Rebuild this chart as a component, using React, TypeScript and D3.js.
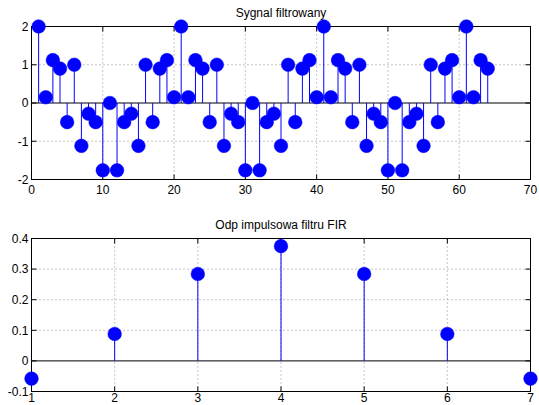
import React from "react";
import * as d3 from "d3";

// Filtered signal samples, n = 1..64
const signalN: number[] = Array.from({ length: 64 }, (_, i) => i + 1);
const signalValues: number[] = [
  2, 0.15, 1.12, 0.9, -0.5, 1, -1.12, -0.28, -0.5, -1.76,
  0, -1.76, -0.5, -0.28, -1.12, 1, -0.5, 0.9, 1.12, 0.15,
  2, 0.15, 1.12, 0.9, -0.5, 1, -1.12, -0.28, -0.5, -1.76,
  0, -1.76, -0.5, -0.28, -1.12, 1, -0.5, 0.9, 1.12, 0.15,
  2, 0.15, 1.12, 0.9, -0.5, 1, -1.12, -0.28, -0.5, -1.76,
  0, -1.76, -0.5, -0.28, -1.12, 1, -0.5, 0.9, 1.12, 0.15,
  2, 0.15, 1.12, 0.9,
];
const signalXTicks: number[] = [0, 10, 20, 30, 40, 50, 60, 70];
const signalYTicks: number[] = [-2, -1, 0, 1, 2];

// FIR impulse response taps, k = 1..7
const firN: number[] = [1, 2, 3, 4, 5, 6, 7];
const firValues: number[] = [-0.058, 0.088, 0.284, 0.375, 0.284, 0.088, -0.058];
const firXTicks: number[] = [1, 2, 3, 4, 5, 6, 7];
const firYTicks: number[] = [-0.1, 0, 0.1, 0.2, 0.3, 0.4];

const FONT = "'Liberation Sans', Arial, Helvetica, sans-serif";
const BLUE = "#0000ff";

type StemProps = {
  title: string;
  xs: number[];
  ys: number[];
  xDomain: [number, number];
  yDomain: [number, number];
  xTicks: number[];
  yTicks: number[];
  box: { left: number; right: number; top: number; bottom: number };
  xLabelOffset: number;
  fmtY: (v: number) => string;
};

function StemPanel({ title, xs, ys, xDomain, yDomain, xTicks, yTicks, box, xLabelOffset, fmtY }: StemProps) {
  const x = d3.scaleLinear().domain(xDomain).range([box.left, box.right]);
  const y = d3.scaleLinear().domain(yDomain).range([box.bottom, box.top]);
  const tickLen = 5;
  const eps = 1e-9;
  const innerX = xTicks.filter((t) => t > xDomain[0] + eps && t < xDomain[1] - eps);
  const innerY = yTicks.filter((t) => t > yDomain[0] + eps && t < yDomain[1] - eps && Math.abs(t) > eps);
  return (
    <g>
      {/* grid */}
      {innerX.map((t) => (
        <line key={"gx" + t} x1={x(t)} x2={x(t)} y1={box.top} y2={box.bottom}
          stroke="#8c8c8c" strokeWidth={1} strokeDasharray="1,3" />
      ))}
      {innerY.map((t) => (
        <line key={"gy" + t} x1={box.left} x2={box.right} y1={y(t)} y2={y(t)}
          stroke="#8c8c8c" strokeWidth={1} strokeDasharray="1,3" />
      ))}
      {/* ticks on all sides, pointing inward */}
      {xTicks.map((t) => (
        <g key={"tx" + t}>
          <line x1={x(t)} x2={x(t)} y1={box.bottom} y2={box.bottom - tickLen} stroke="#000" />
          <line x1={x(t)} x2={x(t)} y1={box.top} y2={box.top + tickLen} stroke="#000" />
          <text x={x(t)} y={box.bottom + xLabelOffset} textAnchor="middle" fontSize={12} fontFamily={FONT} fill="#000">
            {String(t)}
          </text>
        </g>
      ))}
      {yTicks.map((t) => (
        <g key={"ty" + t}>
          <line x1={box.left} x2={box.left + tickLen} y1={y(t)} y2={y(t)} stroke="#000" />
          <line x1={box.right} x2={box.right - tickLen} y1={y(t)} y2={y(t)} stroke="#000" />
          <text x={box.left - 3} y={y(t) + 4.3} textAnchor="end" fontSize={12} fontFamily={FONT} fill="#000">
            {fmtY(t)}
          </text>
        </g>
      ))}
      {/* baseline */}
      <line x1={box.left} x2={box.right} y1={y(0)} y2={y(0)} stroke="#000" strokeWidth={1} />
      {/* stems */}
      {xs.map((xv, i) => (
        <line key={"s" + i} x1={x(xv)} x2={x(xv)} y1={y(0)} y2={y(ys[i])} stroke={BLUE} strokeWidth={1} />
      ))}
      {/* box */}
      <rect x={box.left} y={box.top} width={box.right - box.left} height={box.bottom - box.top}
        fill="none" stroke="#000" strokeWidth={1} />
      {/* markers */}
      {xs.map((xv, i) => (
        <circle key={"m" + i} cx={x(xv)} cy={y(ys[i])} r={6.8} fill={BLUE} stroke={BLUE} strokeWidth={0.5} />
      ))}
      <text x={(box.left + box.right) / 2} y={box.top - 10} textAnchor="middle" fontSize={12}
        fontFamily={FONT} fill="#000">
        {title}
      </text>
    </g>
  );
}

export default function App() {
  return (
    <svg width={539} height={405} viewBox="0 0 539 405"
      style={{ position: "absolute", left: 0, top: 0, background: "#fff" }}>
      <rect x={0} y={0} width={539} height={405} fill="#fff" />
      <StemPanel
        title="Sygnal filtrowany"
        xs={signalN}
        ys={signalValues}
        xDomain={[0, 70]}
        yDomain={[-2, 2]}
        xTicks={signalXTicks}
        yTicks={signalYTicks}
        box={{ left: 31.5, right: 530.5, top: 26.5, bottom: 179.5 }}
        xLabelOffset={14}
        fmtY={(v) => String(v)}
      />
      <StemPanel
        title="Odp impulsowa filtru FIR"
        xs={firN}
        ys={firValues}
        xDomain={[1, 7]}
        yDomain={[-0.1, 0.4]}
        xTicks={firXTicks}
        yTicks={firYTicks}
        box={{ left: 31.5, right: 530.5, top: 238.5, bottom: 391.5 }}
        xLabelOffset={10}
        fmtY={(v) => (Math.abs(v) < 1e-9 ? "0" : String(Math.round(v * 10) / 10))}
      />
    </svg>
  );
}
